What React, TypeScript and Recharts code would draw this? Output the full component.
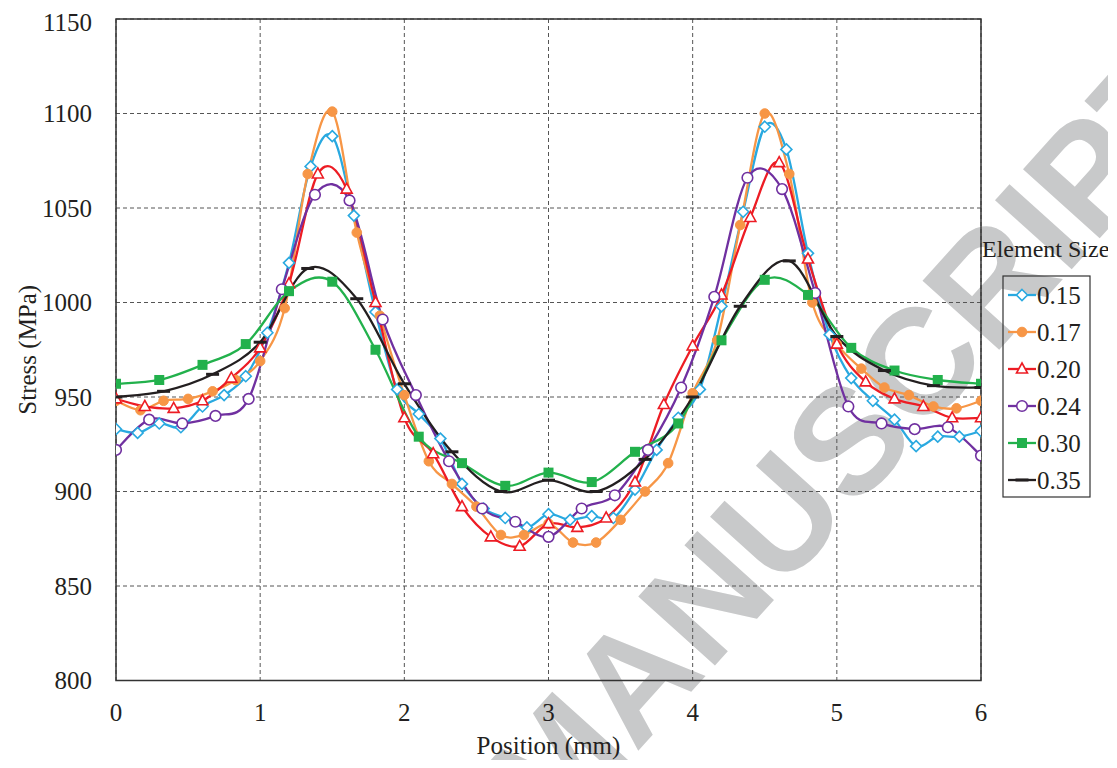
import React from 'react';
import { LineChart, Line, XAxis, YAxis, CartesianGrid, ReferenceArea } from 'recharts';

// sample positions (mm) for each element size
const pos015 = [0, 0.15, 0.3, 0.45, 0.6, 0.75, 0.9, 1.05, 1.2, 1.35, 1.5, 1.65, 1.8, 1.95, 2.1, 2.25, 2.4, 2.55, 2.7, 2.85, 3, 3.15, 3.3, 3.45, 3.6, 3.75, 3.9, 4.05, 4.2, 4.35, 4.5, 4.65, 4.8, 4.95, 5.1, 5.25, 5.4, 5.55, 5.7, 5.85, 6];
const stress015 = [933, 931, 936, 934, 945, 951, 961, 984, 1021, 1072, 1088, 1046, 995, 954, 941, 928, 904, 891, 886, 881, 888, 885, 887, 886, 901, 922, 939, 954, 998, 1048, 1093, 1081, 1026, 983, 960, 948, 938, 924, 929, 929, 932];

const pos017 = [0, 0.17, 0.33, 0.5, 0.67, 0.83, 1, 1.17, 1.33, 1.5, 1.67, 1.83, 2, 2.17, 2.33, 2.5, 2.67, 2.83, 3, 3.17, 3.33, 3.5, 3.67, 3.83, 4, 4.17, 4.33, 4.5, 4.67, 4.83, 5, 5.17, 5.33, 5.5, 5.67, 5.83, 6];
const stress017 = [948, 943, 948, 949, 953, 959, 969, 997, 1068, 1101, 1037, 993, 951, 916, 904, 892, 877, 877, 883, 873, 873, 885, 900, 915, 952, 980, 1041, 1100, 1068, 1000, 978, 965, 955, 951, 945, 944, 948];

const pos020 = [0, 0.2, 0.4, 0.6, 0.8, 1, 1.2, 1.4, 1.6, 1.8, 2, 2.2, 2.4, 2.6, 2.8, 3, 3.2, 3.4, 3.6, 3.8, 4, 4.2, 4.4, 4.6, 4.8, 5, 5.2, 5.4, 5.6, 5.8, 6];
const stress020 = [949, 945, 944, 948, 960, 976, 1010, 1068, 1060, 1000, 939, 920, 892, 876, 871, 883, 881, 886, 905, 946, 977, 1004, 1045, 1074, 1023, 978, 958, 949, 945, 939, 939];

const pos024 = [0, 0.23, 0.46, 0.69, 0.92, 1.15, 1.38, 1.62, 1.85, 2.08, 2.31, 2.54, 2.77, 3, 3.23, 3.46, 3.69, 3.92, 4.15, 4.38, 4.62, 4.85, 5.08, 5.31, 5.54, 5.77, 6];
const stress024 = [922, 938, 936, 940, 949, 1007, 1057, 1054, 991, 951, 916, 891, 884, 876, 891, 898, 922, 955, 1003, 1066, 1060, 1005, 945, 936, 933, 934, 919];

const pos030 = [0, 0.3, 0.6, 0.9, 1.2, 1.5, 1.8, 2.1, 2.4, 2.7, 3, 3.3, 3.6, 3.9, 4.2, 4.5, 4.8, 5.1, 5.4, 5.7, 6];
const stress030 = [957, 959, 967, 978, 1006, 1011, 975, 929, 915, 903, 910, 905, 921, 936, 980, 1012, 1004, 976, 964, 959, 957];

const pos035 = [0, 0.33, 0.67, 1, 1.33, 1.67, 2, 2.33, 2.67, 3, 3.33, 3.67, 4, 4.33, 4.67, 5, 5.33, 5.67, 6];
const stress035 = [950, 953, 962, 979, 1018, 1002, 957, 921, 900, 906, 900, 917, 950, 998, 1022, 982, 964, 956, 955];

const xTicks = [0, 1, 2, 3, 4, 5, 6];
const yTicks = [800, 850, 900, 950, 1000, 1050, 1100, 1150];

const FONT = '"Liberation Serif", "Times New Roman", serif';

type Kind = 'diamond' | 'dot' | 'triangle' | 'circle' | 'square' | 'dash';

const toPoints = (xs: number[], ys: number[]) => xs.map((x, i) => ({ x, y: ys[i] }));

const series: { name: string; color: string; kind: Kind; data: { x: number; y: number }[] }[] = [
  { name: '0.15', color: '#29A9E0', kind: 'diamond', data: toPoints(pos015, stress015) },
  { name: '0.17', color: '#F79646', kind: 'dot', data: toPoints(pos017, stress017) },
  { name: '0.20', color: '#ED1C24', kind: 'triangle', data: toPoints(pos020, stress020) },
  { name: '0.24', color: '#7030A0', kind: 'circle', data: toPoints(pos024, stress024) },
  { name: '0.30', color: '#22B14C', kind: 'square', data: toPoints(pos030, stress030) },
  { name: '0.35', color: '#231F20', kind: 'dash', data: toPoints(pos035, stress035) },
];

// Excel-style smoothed line (Catmull-Rom through the points)
const smoothCurve = (context: any) => {
  let pts: [number, number][] = [];
  return {
    areaStart() {},
    areaEnd() {},
    lineStart() {
      pts = [];
    },
    point(x: number, y: number) {
      pts.push([+x, +y]);
    },
    lineEnd() {
      const n = pts.length;
      if (!n) return;
      context.moveTo(pts[0][0], pts[0][1]);
      for (let i = 0; i < n - 1; i++) {
        const p0 = pts[i - 1] || pts[i];
        const p1 = pts[i];
        const p2 = pts[i + 1];
        const p3 = pts[i + 2] || p2;
        context.bezierCurveTo(
          p1[0] + (p2[0] - p0[0]) / 6,
          p1[1] + (p2[1] - p0[1]) / 6,
          p2[0] - (p3[0] - p1[0]) / 6,
          p2[1] - (p3[1] - p1[1]) / 6,
          p2[0],
          p2[1],
        );
      }
    },
  };
};

const Marker = ({ kind, cx, cy, color }: { kind: Kind; cx: number; cy: number; color: string }) => {
  switch (kind) {
    case 'diamond':
      return <path d={`M${cx},${cy - 5.5}L${cx + 5.5},${cy}L${cx},${cy + 5.5}L${cx - 5.5},${cy}Z`} fill="#fff" stroke={color} strokeWidth={1.6} />;
    case 'dot':
      return <circle cx={cx} cy={cy} r={4.8} fill={color} stroke={color} />;
    case 'triangle':
      return <path d={`M${cx},${cy - 6}L${cx + 5.5},${cy + 4}L${cx - 5.5},${cy + 4}Z`} fill="#fff" stroke={color} strokeWidth={1.6} />;
    case 'circle':
      return <circle cx={cx} cy={cy} r={5.3} fill="#fff" stroke={color} strokeWidth={1.6} />;
    case 'square':
      return <rect x={cx - 5} y={cy - 5} width={10} height={10} fill={color} />;
    default:
      return <rect x={cx - 6.5} y={cy - 1.5} width={13} height={3} fill={color} />;
  }
};

const App = () => {
  return (
    <div style={{ position: 'relative', width: 1100, height: 752, overflow: 'hidden' }}>
      <svg width={1100} height={752} style={{ position: 'absolute', left: 0, top: 0 }}>
        <text
          x={840}
          y={432}
          transform="rotate(-48 840 432)"
          textAnchor="middle"
          dominantBaseline="central"
          fontFamily='"Liberation Sans", Arial, sans-serif'
          fontWeight="bold"
          fontSize={150}
          fill="#C8C9CA"
        >
          MANUSCRIPT
        </text>
      </svg>
      <div style={{ position: 'absolute', left: 0, top: 0 }}>
        <LineChart width={1100} height={752} margin={{ top: 11, right: 127, bottom: 0, left: 0 }}>
          <CartesianGrid stroke="#555" strokeDasharray="4 3" strokeWidth={1} />
          <XAxis
            type="number"
            dataKey="x"
            domain={[0, 6]}
            ticks={xTicks}
            allowDataOverflow
            axisLine={false}
            tickLine={false}
            tickMargin={17}
            height={79.5}
            tick={{ fill: '#231F20', fontSize: 25, fontFamily: FONT }}
            label={{ value: 'Position (mm)', position: 'insideBottom', offset: 6, fill: '#231F20', fontSize: 25, fontFamily: FONT }}
          />
          <YAxis
            type="number"
            dataKey="y"
            domain={[800, 1150]}
            ticks={yTicks}
            allowDataOverflow
            axisLine={false}
            tickLine={false}
            tickMargin={18}
            width={108}
            tick={{ fill: '#231F20', fontSize: 25, fontFamily: FONT }}
            label={{ value: 'Stress (MPa)', angle: -90, position: 'insideLeft', offset: 19, fill: '#231F20', fontSize: 25, fontFamily: FONT, style: { textAnchor: 'middle' } }}
          />
          <ReferenceArea x1={0} x2={6} y1={800} y2={1150} fill="none" fillOpacity={0} stroke="#333" strokeWidth={1.5} ifOverflow="visible" />
          {series.map((s) => (
            <Line
              key={s.name}
              data={s.data}
              dataKey="y"
              type={smoothCurve as any}
              stroke={s.color}
              strokeWidth={2.3}
              isAnimationActive={false}
              dot={(p: any) => <Marker key={`${s.name}-${p.index}`} kind={s.kind} cx={p.cx} cy={p.cy} color={s.color} />}
              activeDot={false}
            />
          ))}
        </LineChart>
      </div>
      <svg width={1100} height={752} style={{ position: 'absolute', left: 0, top: 0, pointerEvents: 'none' }}>
        <text x={974} y={249} fontFamily={FONT} fontSize={24} fill="#231F20">Element Size</text>
        <rect x={995} y={268} width={87} height={221} fill="none" stroke="#333" strokeWidth={1.2} />
        {series.map((s, i) => {
          const cy = 287 + i * 37;
          return (
            <g key={s.name}>
              <line x1={1000} x2={1028} y1={cy} y2={cy} stroke={s.color} strokeWidth={2.3} />
              <Marker kind={s.kind} cx={1014} cy={cy} color={s.color} />
              <text x={1029} y={cy + 8.5} fontFamily={FONT} fontSize={25} fill="#231F20">{s.name}</text>
            </g>
          );
        })}
      </svg>
    </div>
  );
};

export default App;
